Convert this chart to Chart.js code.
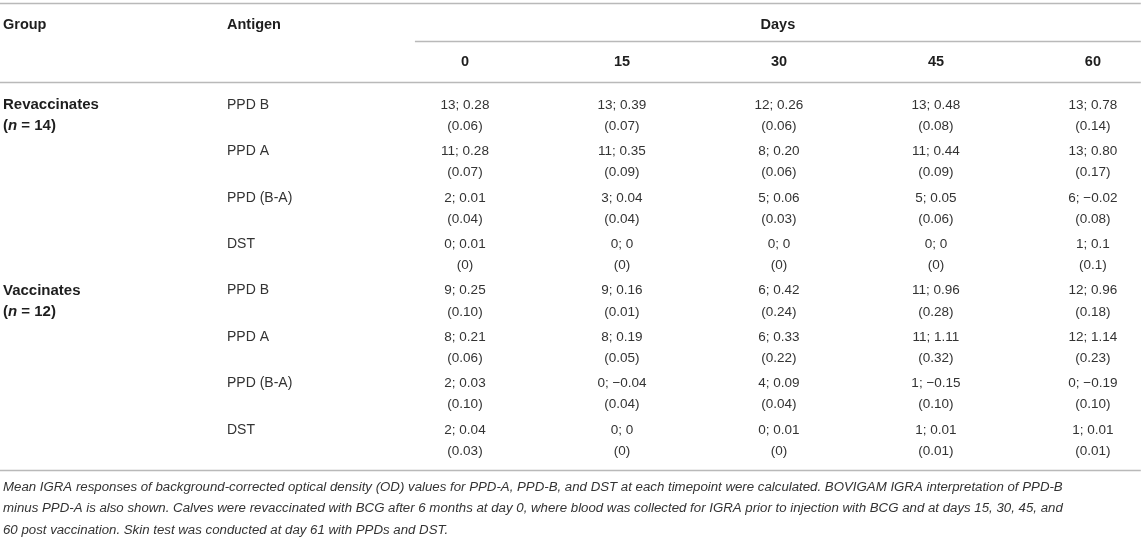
<!DOCTYPE html>
<html>
<head>
<meta charset="utf-8">
<script src="https://cdn.jsdelivr.net/npm/chart.js@4/dist/chart.umd.min.js"></script>
<style>
  html, body { margin: 0; padding: 0; background: #fff; }
  #wrap { width: 1146px; height: 550px; position: relative; }
</style>
</head>
<body>
<div id="wrap"><canvas id="tbl"></canvas></div>
<script>
// table content
var days = ['0', '15', '30', '45', '60'];
var groups = ['Revaccinates', 'Vaccinates'];
var groupN = [14, 12];
var antigens = ['PPD B', 'PPD A', 'PPD (B-A)', 'DST'];

var revacCount = [
  [13, 13, 12, 13, 13],
  [11, 11, 8, 11, 13],
  [2, 3, 5, 5, 6],
  [0, 0, 0, 0, 1]
];
var revacMean = [
  ['0.28', '0.39', '0.26', '0.48', '0.78'],
  ['0.28', '0.35', '0.20', '0.44', '0.80'],
  ['0.01', '0.04', '0.06', '0.05', '\u22120.02'],
  ['0.01', '0', '0', '0', '0.1']
];
var revacSe = [
  ['0.06', '0.07', '0.06', '0.08', '0.14'],
  ['0.07', '0.09', '0.06', '0.09', '0.17'],
  ['0.04', '0.04', '0.03', '0.06', '0.08'],
  ['0', '0', '0', '0', '0.1']
];

var vaccCount = [
  [9, 9, 6, 11, 12],
  [8, 8, 6, 11, 12],
  [2, 0, 4, 1, 0],
  [2, 0, 0, 1, 1]
];
var vaccMean = [
  ['0.25', '0.16', '0.42', '0.96', '0.96'],
  ['0.21', '0.19', '0.33', '1.11', '1.14'],
  ['0.03', '\u22120.04', '0.09', '\u22120.15', '\u22120.19'],
  ['0.04', '0', '0.01', '0.01', '0.01']
];
var vaccSe = [
  ['0.10', '0.01', '0.24', '0.28', '0.18'],
  ['0.06', '0.05', '0.22', '0.32', '0.23'],
  ['0.10', '0.04', '0.04', '0.10', '0.10'],
  ['0.03', '0', '0', '0.01', '0.01']
];

var caption = [
  'Mean IGRA responses of background-corrected optical density (OD) values for PPD-A, PPD-B, and DST at each timepoint were calculated. BOVIGAM IGRA interpretation of PPD-B',
  'minus PPD-A is also shown. Calves were revaccinated with BCG after 6 months at day 0, where blood was collected for IGRA prior to injection with BCG and at days 15, 30, 45, and',
  '60 post vaccination. Skin test was conducted at day 61 with PPDs and DST.'
];

// layout, in scale units (x: day column index, y: body row index)
var LAYOUT = {
  groupX: -2.943,
  antigenX: -1.516,
  headY1: -1.724,
  headY2: -0.927,
  topRule: -2.198,
  daysRule: -1.379,
  headRule: -0.496,
  footRule: 7.866,
  daysFrom: -0.319,
  ruleLeft: -2.962,
  ruleRight: 4.305,
  secondLine: 0.46,
  captionY: [8.233, 8.685, 9.16]
};

var FONT = '"Liberation Sans", Arial, Helvetica, sans-serif';

function buildCells() {
  var cells = [];
  var sets = [[revacCount, revacMean, revacSe], [vaccCount, vaccMean, vaccSe]];
  sets.forEach(function(s, g) {
    antigens.forEach(function(a, r) {
      days.forEach(function(d, c) {
        cells.push({
          x: c,
          y: g * antigens.length + r,
          top: s[0][r][c] + '; ' + s[1][r][c],
          bottom: '(' + s[2][r][c] + ')'
        });
      });
    });
  });
  return cells;
}

function hline(ctx, sx, sy, x1, x2, yv) {
  var py = Math.round(sy.getPixelForValue(yv)) + 0.5;
  ctx.beginPath();
  ctx.moveTo(sx.getPixelForValue(x1), py);
  ctx.lineTo(sx.getPixelForValue(x2), py);
  ctx.stroke();
}

var tablePlugin = {
  id: 'tablePlugin',
  afterDraw: function(chart) {
    var ctx = chart.ctx;
    var sx = chart.scales.x;
    var sy = chart.scales.y;
    ctx.save();

    // rules
    ctx.strokeStyle = '#b9b9b9';
    ctx.lineWidth = 1.5;
    hline(ctx, sx, sy, LAYOUT.ruleLeft, LAYOUT.ruleRight, LAYOUT.topRule);
    hline(ctx, sx, sy, LAYOUT.daysFrom, LAYOUT.ruleRight, LAYOUT.daysRule);
    hline(ctx, sx, sy, LAYOUT.ruleLeft, LAYOUT.ruleRight, LAYOUT.headRule);
    hline(ctx, sx, sy, LAYOUT.ruleLeft, LAYOUT.ruleRight, LAYOUT.footRule);

    ctx.textBaseline = 'middle';

    // header
    ctx.fillStyle = '#1e1e1e';
    ctx.font = 'bold 14.5px ' + FONT;
    ctx.textAlign = 'left';
    ctx.fillText('Group', sx.getPixelForValue(LAYOUT.groupX), sy.getPixelForValue(LAYOUT.headY1));
    ctx.fillText('Antigen', sx.getPixelForValue(LAYOUT.antigenX), sy.getPixelForValue(LAYOUT.headY1));
    ctx.textAlign = 'center';
    ctx.fillText('Days', (sx.getPixelForValue(LAYOUT.daysFrom) + sx.getPixelForValue(LAYOUT.ruleRight)) / 2,
      sy.getPixelForValue(LAYOUT.headY1));
    days.forEach(function(d, c) {
      ctx.fillText(d, sx.getPixelForValue(c), sy.getPixelForValue(LAYOUT.headY2));
    });

    // group labels
    var step = sy.getPixelForValue(1) - sy.getPixelForValue(0);
    groups.forEach(function(g, i) {
      var px = sx.getPixelForValue(LAYOUT.groupX);
      var py = sy.getPixelForValue(i * antigens.length);
      ctx.textAlign = 'left';
      ctx.font = 'bold 15px ' + FONT;
      ctx.fillText(g, px, py);
      var py2 = py + step * LAYOUT.secondLine;
      var parts = [['(', 'bold'], ['n', 'italic bold'], [' = ' + groupN[i] + ')', 'bold']];
      parts.forEach(function(p) {
        ctx.font = p[1] + ' 15px ' + FONT;
        ctx.fillText(p[0], px, py2);
        px += ctx.measureText(p[0]).width;
      });
    });

    // antigen labels
    ctx.fillStyle = '#333';
    ctx.font = '14px ' + FONT;
    ctx.textAlign = 'left';
    groups.forEach(function(g, i) {
      antigens.forEach(function(a, r) {
        ctx.fillText(a, sx.getPixelForValue(LAYOUT.antigenX), sy.getPixelForValue(i * antigens.length + r));
      });
    });

    // cells, placed at the scatter points
    ctx.font = '13.5px ' + FONT;
    ctx.textAlign = 'center';
    var meta = chart.getDatasetMeta(0);
    var data = chart.data.datasets[0].data;
    meta.data.forEach(function(pt, i) {
      ctx.fillText(data[i].top, pt.x, pt.y);
      ctx.fillText(data[i].bottom, pt.x, pt.y + step * LAYOUT.secondLine);
    });

    // caption
    ctx.font = 'italic 13.25px ' + FONT;
    ctx.fillStyle = '#333';
    ctx.textAlign = 'left';
    caption.forEach(function(line, k) {
      ctx.fillText(line, sx.getPixelForValue(LAYOUT.groupX), sy.getPixelForValue(LAYOUT.captionY[k]));
    });

    ctx.restore();
  }
};

var ctx = document.getElementById('tbl').getContext('2d');
var tableChart = new Chart(ctx, {
  type: 'scatter',
  data: {
    datasets: [{
      label: 'cells',
      data: buildCells(),
      pointRadius: 0,
      pointHoverRadius: 0
    }]
  },
  options: {
    responsive: true,
    maintainAspectRatio: false,
    animation: false,
    layout: { padding: 0 },
    plugins: {
      legend: { display: false },
      tooltip: { enabled: false }
    },
    scales: {
      x: { type: 'linear', display: false, min: -2.962, max: 4.338 },
      y: { type: 'linear', display: false, reverse: true, min: -2.263, max: 9.59 }
    }
  },
  plugins: [tablePlugin]
});
</script>
</body>
</html>
